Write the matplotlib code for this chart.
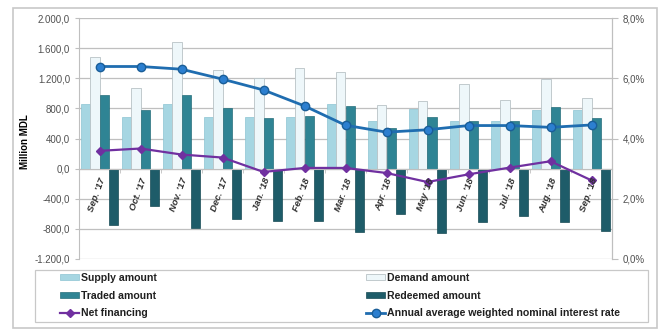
import numpy as np
import matplotlib.pyplot as plt
from matplotlib.patches import Rectangle
from matplotlib.ticker import FuncFormatter

plt.rcParams["font.family"] = ["Liberation Sans", "DejaVu Sans"]

# Monthly auction figures, million MDL
months = ["Sep. '17", "Oct. '17", "Nov. '17", "Dec. '17", "Jan. '18", "Feb. '18",
          "Mar. '18", "Apr. '18", "May '18", "Jun. '18", "Jul. '18", "Aug. '18", "Sep. '18"]
supply = [860, 690, 860, 680, 680, 680, 853, 636, 787, 636, 636, 778, 778]
demand = [1480, 1067, 1675, 1311, 1200, 1342, 1289, 844, 902, 1124, 911, 1191, 933]
traded = [978, 778, 978, 809, 667, 698, 836, 533, 680, 636, 636, 822, 676]
redeemed = [-742, -502, -791, -667, -702, -689, -836, -600, -853, -711, -631, -711, -831]
net_financing = [236, 267, 187, 147, -44, 9, 9, -58, -178, -76, 13, 98, -156]
# Annual average weighted nominal interest rate, %
rate = [6.39, 6.39, 6.30, 5.97, 5.61, 5.08, 4.44, 4.21, 4.29, 4.43, 4.43, 4.37, 4.45]

def thousands(v, pos):
    s = f"{v:,.1f}"
    return s.replace(",", "X").replace(".", ",").replace("X", ".")

def pct(v, pos):
    return f"{v:.1f}%".replace(".", ",")

W, H = 664, 329
fig = plt.figure(figsize=(W / 100, H / 100), dpi=100)
# outer chart border
fig.patches.append(Rectangle((13 / W, 1 - 328 / H), 644 / W, 320 / H,
                             transform=fig.transFigure, fill=False,
                             edgecolor="#c8c8c8", linewidth=1.2))

ax = fig.add_axes([79 / W, 1 - 259 / H, 533 / W, 241 / H])
x = np.arange(len(months))
w = 0.22

b1 = ax.bar(x - 1.5 * w, supply, w, color="#a6d6e2", edgecolor="#8cc4d2", linewidth=0.5,
            label="Supply amount", zorder=2)
b2 = ax.bar(x - 0.5 * w, demand, w, color="#eef7fa", edgecolor="#b8c2c6", linewidth=0.6,
            label="Demand amount", zorder=2)
b3 = ax.bar(x + 0.5 * w, traded, w, color="#2f8494", edgecolor="#266e7b", linewidth=0.5,
            label="Traded amount", zorder=2)
b4 = ax.bar(x + 1.5 * w, redeemed, w, color="#1e5c69", edgecolor="#174b55", linewidth=0.5,
            label="Redeemed amount", zorder=2)
l1, = ax.plot(x, net_financing, color="#7030a0", linewidth=1.6, marker="D", markersize=4,
              label="Net financing", zorder=4)

ax.set_xlim(-0.5, len(months) - 0.5)
ax.set_ylim(-1200, 2000)
ax.set_yticks(np.arange(-1200, 2001, 400))
ax.yaxis.set_major_formatter(FuncFormatter(thousands))
ax.grid(axis="y", color="#bfbfbf", linewidth=0.9, zorder=0)
ax.set_axisbelow(True)
ax.tick_params(axis="y", labelsize=7, length=3, color="#bfbfbf", labelcolor="#505050")
ax.set_ylabel("Million MDL", fontsize=7, fontweight="bold")
ax.yaxis.set_label_coords(-0.092, 0.485)

# category axis sits on the zero line
ax.spines["bottom"].set_position(("data", 0))
ax.spines["bottom"].set_color("#bfbfbf")
ax.set_xticks(x)
ax.set_xticklabels([])
ax.set_xticks(np.arange(-0.5, len(months)), minor=True)
ax.tick_params(axis="x", which="major", length=0)
ax.tick_params(axis="x", which="minor", length=3, color="#bfbfbf")
ax.spines["top"].set_visible(False)
ax.spines["left"].set_color("#bfbfbf")
ax.spines["right"].set_color("#bfbfbf")

for i, m in enumerate(months):
    ax.annotate(m, xy=(i, 0), xytext=(2.5, -7), textcoords="offset points",
                rotation=70, rotation_mode="anchor", ha="right", va="center",
                fontsize=6.8, fontweight="bold", fontstyle="italic", color="#303030",
                zorder=5)

ax2 = ax.twinx()
l2, = ax2.plot(x, rate, color="#1f6db0", linewidth=2, marker="o", markersize=6,
               markerfacecolor="#2c7fd0", markeredgecolor="#1a5e98",
               label="Annual average weighted nominal interest rate", zorder=5)
ax2.set_ylim(0, 8)
ax2.set_yticks([0, 2, 4, 6, 8])
ax2.yaxis.set_major_formatter(FuncFormatter(pct))
ax2.tick_params(axis="y", labelsize=7, length=4, color="#bfbfbf", labelcolor="#505050")
for sp in ["top", "bottom", "left"]:
    ax2.spines[sp].set_visible(False)
ax2.spines["right"].set_color("#bfbfbf")

# legend: frame drawn once, two columns placed inside it
fig.patches.append(Rectangle((35 / W, 1 - 322 / H), 613 / W, 52 / H,
                             transform=fig.transFigure, fill=False,
                             edgecolor="#c8c8c8", linewidth=0.9))
leg_kw = dict(loc="upper left", frameon=False, prop={"size": 7.6, "weight": "bold"},
              handlelength=1.8, handleheight=0.45, handletextpad=0.15,
              labelspacing=0.72, borderpad=0, borderaxespad=0)
leg1 = fig.legend([b1, b3, l1], [b1.get_label(), b3.get_label(), l1.get_label()],
                  bbox_to_anchor=(60 / W, 1 - 273 / H), **leg_kw)
leg2 = fig.legend([b2, b4, l2], [b2.get_label(), b4.get_label(), l2.get_label()],
                  bbox_to_anchor=(366 / W, 1 - 273 / H), **leg_kw)
for lg in (leg1, leg2):
    for t in lg.get_texts():
        t.set_color("#202020")

fig.savefig("out.png", dpi=100)
